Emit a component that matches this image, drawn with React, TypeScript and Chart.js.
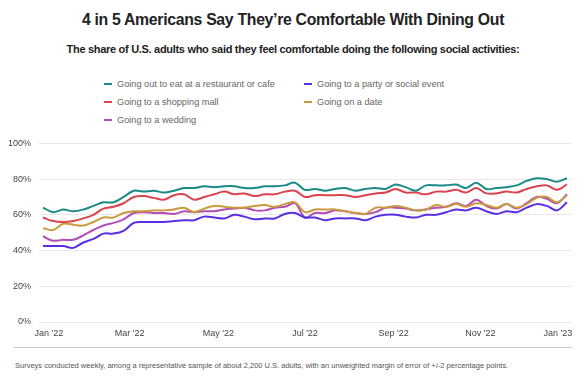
import React, { useEffect, useRef } from "react";
import { Chart, registerables } from "chart.js";

Chart.register(...registerables);

const seriesNames = [
  "Going out to eat at a restaurant or cafe",
  "Going to a party or social event",
  "Going to a shopping mall",
  "Going on a date",
  "Going to a wedding",
];
const seriesColors = ["#1b8a86", "#5a2ee3", "#d9444f", "#c99a3e", "#b24db6"];

const tickLabels = ["Jan '22", "Mar '22", "May '22", "Jul '22", "Sep '22", "Nov '22", "Jan '23"];
const tickWeeks = [0.57, 8.6, 17.4, 26.0, 34.8, 43.4, 51.1];
const yTicks = [0, 20, 40, 60, 80, 100];

const restaurant = [
  64, 61.5, 63, 62, 63, 65, 67, 67, 70, 73.5, 73, 73.5, 72.5, 73.5, 75, 75, 76, 75.5, 76, 76, 75, 75, 76, 76, 76.5, 78,
  74, 74.5, 73.5, 74.5, 75, 73.5, 74.5, 75, 74.5, 77, 75.5, 73.5, 76.5, 76.5, 76.5, 77, 75, 78, 74.5, 75, 75.5, 76.5, 79, 80.5, 80, 78.5, 80.5,
];
const party = [
  42.5, 42.5, 42.5, 41.5, 44.5, 46.5, 49.5, 49.5, 51, 55.5, 56, 56, 56, 56.5, 57, 57, 59, 58.5, 58, 60, 59, 57.5, 58, 58, 60.5, 61,
  58.5, 58.5, 57, 58, 58, 58, 57, 59, 60, 60, 59, 58.5, 60, 60, 61.5, 63, 62.5, 64, 62, 60.5, 62, 61.5, 64, 66, 65, 62.5, 67,
];
const mall = [
  58.5, 56.5, 56, 56.5, 58, 60, 63.5, 64.5, 66.5, 70, 70.5, 69.5, 68.5, 71, 71.5, 68.5, 70, 71.5, 73, 71.5, 72, 70.5, 71.5, 71.5, 73, 73.5,
  70, 71, 71, 71, 71, 70, 71, 72, 72.5, 74.5, 72.5, 72.5, 71.5, 73, 73, 74, 72.5, 75, 72, 72, 73, 72.5, 74.5, 76, 76.5, 74, 77,
];
const date = [
  52.5, 51.5, 55, 54.5, 54, 56, 58.5, 58.5, 61, 62, 62, 62.5, 62.5, 63, 64, 61.5, 63.5, 65, 64.5, 64, 64, 65, 65.5, 64.5, 66, 67,
  61.5, 63, 63, 63, 62, 61, 60.5, 64, 64, 65, 64, 62.5, 63, 65.5, 64.5, 66, 64.5, 66.5, 65.5, 64, 66, 64, 66, 69.5, 70, 67, 71,
];
const wedding = [
  48, 45.5, 46, 46, 48.5, 51.5, 54, 55.5, 57.5, 61, 61.5, 61, 61, 60.5, 62, 61.5, 62, 62, 63, 63.5, 64, 62.5, 62.5, 64, 64.5, 66.5,
  58.5, 61, 61, 62.5, 62, 61, 60.5, 61.5, 64, 64, 63.5, 62.5, 63, 64, 64.5, 66.5, 65, 68.5, 65, 63.5, 66, 63.5, 66.5, 70, 69, 66.5, 71.5,
];

const allSeries = [restaurant, party, mall, date, wedding];

const FONT = "'Liberation Sans', Arial, sans-serif";

export default function App() {
  const canvasRef = useRef<HTMLCanvasElement | null>(null);

  useEffect(() => {
    document.body.style.margin = "0";
    const ctx = canvasRef.current;
    if (!ctx) return;
    const chart = new Chart(ctx, {
      type: "line",
      data: {
        datasets: allSeries.map((s, k) => ({
          label: seriesNames[k],
          data: s.map((v, i) => ({ x: i, y: v })),
          borderColor: seriesColors[k],
          backgroundColor: seriesColors[k],
          borderWidth: 2,
          pointRadius: 0,
          tension: 0.35,
          fill: false,
        })),
      },
      options: {
        animation: false,
        responsive: false,
        maintainAspectRatio: false,
        layout: { padding: { top: 10, right: 14, left: 0, bottom: 0 } },
        plugins: { legend: { display: false }, tooltip: { enabled: false }, title: { display: false } },
        scales: {
          x: {
            type: "linear",
            min: -0.4,
            max: 52.5,
            grid: { display: false, drawTicks: false },
            border: { display: false },
            afterBuildTicks: (scale: any) => {
              scale.ticks = tickWeeks.map((v) => ({ value: v }));
            },
            afterFit: (scale: any) => {
              scale.height = 20;
            },
            ticks: {
              autoSkip: false,
              maxRotation: 0,
              padding: 6,
              color: "#444",
              font: { family: FONT, size: 9 },
              callback: (_v: any, i: number) => tickLabels[i],
            },
          },
          y: {
            min: 0,
            max: 100,
            afterBuildTicks: (scale: any) => {
              scale.ticks = yTicks.map((v) => ({ value: v }));
            },
            afterFit: (scale: any) => {
              scale.width = 39;
            },
            grid: { color: "#e9e9e9", drawTicks: false, lineWidth: 1 },
            border: { display: false },
            ticks: {
              padding: 8,
              color: "#444",
              font: { family: FONT, size: 9 },
              callback: (v: any) => v + "%",
            },
          },
        },
      },
    });
    return () => chart.destroy();
  }, []);

  const legendRows = [
    [0, 1],
    [2, 3],
    [4],
  ];

  return (
    <div style={{ position: "relative", width: 586, height: 392, background: "#fff", fontFamily: FONT, overflow: "hidden" }}>
      <div
        style={{
          position: "absolute",
          top: 11,
          left: 0,
          width: 586,
          textAlign: "center",
          fontSize: 15.8,
          letterSpacing: -0.3,
          fontWeight: 700,
          color: "#222",
        }}
      >
        4 in 5 Americans Say They’re Comfortable With Dining Out
      </div>
      <div
        style={{
          position: "absolute",
          top: 43,
          left: 0,
          width: 586,
          textAlign: "center",
          fontSize: 11,
          letterSpacing: -0.3,
          fontWeight: 700,
          color: "#222",
        }}
      >
        The share of U.S. adults who said they feel comfortable doing the following social activities:
      </div>
      {legendRows.map((row, r) =>
        row.map((k, c) => (
          <div
            key={k}
            style={{
              position: "absolute",
              top: 78 + r * 18,
              left: c === 0 ? 104 : 304,
              height: 12,
              display: "flex",
              alignItems: "center",
              fontSize: 9.2,
              color: "#666",
              whiteSpace: "nowrap",
            }}
          >
            <span style={{ display: "inline-block", width: 8, height: 2.5, background: seriesColors[k], marginRight: 5 }} />
            {seriesNames[k]}
          </div>
        ))
      )}
      <canvas
        ref={canvasRef}
        width={586}
        height={212}
        style={{ position: "absolute", top: 130, left: 0, width: 586, height: 212 }}
      />
      <div style={{ position: "absolute", top: 347, left: 14, width: 558, height: 1, background: "#c8c8c8" }} />
      <div style={{ position: "absolute", top: 361, left: 15, fontSize: 7.5, color: "#555", whiteSpace: "nowrap" }}>
        Surveys conducted weekly, among a representative sample of about 2,200 U.S. adults, with an unweighted margin of error of +/-2 percentage points.
      </div>
    </div>
  );
}
